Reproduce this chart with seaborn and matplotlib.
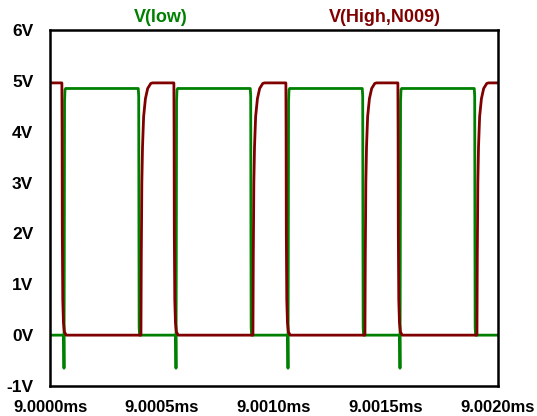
import numpy as np
import pandas as pd
from matplotlib import pyplot as plt
from matplotlib.ticker import FuncFormatter
import seaborn as sns

# 时间轴: 相对 9.0000ms 的偏移 (ns)
# V(low) 波形
low_t = [0, 61, 62.5, 63.5, 65, 67, 70, 394, 396, 397, 398, 400,
         561, 562.5, 563.5, 565, 567, 570, 894, 896, 897, 898, 900,
         1061, 1062.5, 1063.5, 1065, 1067, 1070, 1394, 1396, 1397, 1398, 1400,
         1561, 1562.5, 1563.5, 1565, 1567, 1570, 1894, 1896, 1897, 1898, 1900, 2000]
low_v = [0, 0, -0.65, 1.0, 4.6, 4.83, 4.85, 4.85, 4.7, 2.0, 0.15, 0,
         0, -0.65, 1.0, 4.6, 4.83, 4.85, 4.85, 4.7, 2.0, 0.15, 0,
         0, -0.65, 1.0, 4.6, 4.83, 4.85, 4.85, 4.7, 2.0, 0.15, 0,
         0, -0.65, 1.0, 4.6, 4.83, 4.85, 4.85, 4.7, 2.0, 0.15, 0, 0]

# V(High,N009) 波形
high_t = [0, 53, 54, 55, 57, 60, 64, 72,
          406, 407.5, 410, 413, 418, 426, 436, 450, 458,
          553, 554, 555, 557, 560, 564, 572,
          906, 907.5, 910, 913, 918, 926, 936, 950, 958,
          1053, 1054, 1055, 1057, 1060, 1064, 1072,
          1406, 1407.5, 1410, 1413, 1418, 1426, 1436, 1450, 1458,
          1553, 1554, 1555, 1557, 1560, 1564, 1572,
          1906, 1907.5, 1910, 1913, 1918, 1926, 1936, 1950, 1958, 2000]
high_v = [4.96, 4.96, 4.0, 2.0, 0.7, 0.25, 0.07, 0,
          0, 1.5, 3.0, 3.7, 4.3, 4.65, 4.85, 4.95, 4.96,
          4.96, 4.0, 2.0, 0.7, 0.25, 0.07, 0,
          0, 1.5, 3.0, 3.7, 4.3, 4.65, 4.85, 4.95, 4.96,
          4.96, 4.0, 2.0, 0.7, 0.25, 0.07, 0,
          0, 1.5, 3.0, 3.7, 4.3, 4.65, 4.85, 4.95, 4.96,
          4.96, 4.0, 2.0, 0.7, 0.25, 0.07, 0,
          0, 1.5, 3.0, 3.7, 4.3, 4.65, 4.85, 4.95, 4.96, 4.96]

x_ticks = [0, 500, 1000, 1500, 2000]
y_ticks = [-1, 0, 1, 2, 3, 4, 5, 6]

green = '#008000'
dark_red = '#800000'

sns.set_style('white')
plt.rcParams['font.family'] = ['Liberation Sans', 'DejaVu Sans']
plt.rcParams['font.weight'] = 'bold'

fig = plt.figure(figsize=(5.37, 4.16), dpi=100)
ax = fig.add_axes([50 / 537, 30 / 416, 448 / 537, 356 / 416])

low_df = pd.DataFrame({'t': low_t, 'v': low_v})
high_df = pd.DataFrame({'t': high_t, 'v': high_v})
sns.lineplot(data=low_df, x='t', y='v', color=green, lw=2, sort=False, estimator=None, ax=ax)
sns.lineplot(data=high_df, x='t', y='v', color=dark_red, lw=2, sort=False, estimator=None, ax=ax)

ax.set_xlim(0, 2000)
ax.set_ylim(-1, 6)
ax.set_xticks(x_ticks)
ax.set_yticks(y_ticks)
ax.xaxis.set_major_formatter(FuncFormatter(lambda v, p: f'{9 + v / 1e6:.4f}ms'))
ax.yaxis.set_major_formatter(FuncFormatter(lambda v, p: f'{int(v)}V'))
ax.set_xlabel('')
ax.set_ylabel('')

for s in ax.spines.values():
    s.set_color('black')
    s.set_linewidth(1.8)
ax.tick_params(axis='both', direction='out', width=1.8, color='black', labelcolor='black')
ax.tick_params(axis='y', length=11, pad=1, labelsize=12.5)
ax.tick_params(axis='x', length=9, pad=1, labelsize=12)
for lab in ax.get_xticklabels() + ax.get_yticklabels():
    lab.set_fontweight('bold')

ax.text(0.248, 1.012, 'V(low)', transform=ax.transAxes, color=green, fontsize=13,
        fontweight='bold', ha='center', va='bottom')
ax.text(0.748, 1.012, 'V(High,N009)', transform=ax.transAxes, color=dark_red, fontsize=13,
        fontweight='bold', ha='center', va='bottom')

plt.savefig('out.png', dpi=100)
